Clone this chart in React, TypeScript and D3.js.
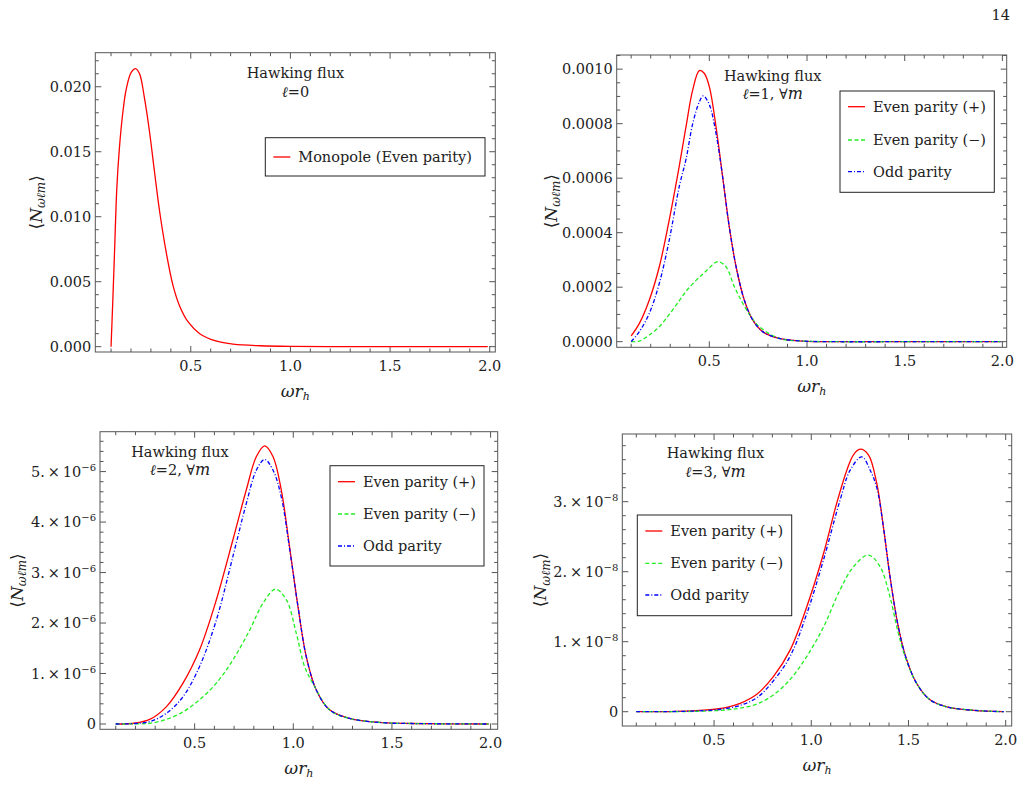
import React from 'react';
import * as d3 from 'd3';

// ---- data ----
const xMajorTicks = [0.5, 1.0, 1.5, 2.0];
const xMinorTicks = d3.range(1, 21).map((i) => i / 10);

// l = 0, monopole
const monoX = [0.1, 0.108, 0.117, 0.129, 0.142, 0.159, 0.176, 0.201, 0.223, 0.243, 0.268, 0.293, 0.318, 0.344, 0.377, 0.411, 0.445, 0.487, 0.545, 0.63, 0.713, 0.848, 1.0, 1.3, 1.6, 1.99];
const monoY = [0, 0.0032, 0.00705, 0.0122, 0.0153, 0.018, 0.0198, 0.0211, 0.0214, 0.021, 0.0191, 0.01654, 0.01346, 0.01038, 0.00725, 0.0047, 0.0031, 0.0019, 0.001, 0.00042, 0.00019, 0.00007, 0.00002, 0, 0, 0];

// l = 1
const l1PlusX = [0.1, 0.142, 0.193, 0.244, 0.295, 0.346, 0.381, 0.415, 0.449, 0.474, 0.5, 0.534, 0.568, 0.602, 0.637, 0.679, 0.722, 0.773, 0.858, 0.978, 1.15, 1.5, 1.99];
const l1PlusY = [0.000021, 0.000067, 0.000153, 0.000275, 0.000447, 0.000643, 0.00079, 0.000924, 0.000995, 0.000985, 0.000936, 0.00079, 0.000606, 0.000422, 0.000275, 0.000153, 0.00008, 0.000037, 0.000012, 0.0000024, 0, 0, 0];
const l1MinusX = [0.1, 0.142, 0.193, 0.244, 0.295, 0.346, 0.381, 0.432, 0.474, 0.509, 0.543, 0.585, 0.628, 0.671, 0.713, 0.756, 0.858, 0.978, 1.15, 1.5, 1.99];
const l1MinusY = [0, 0.0000024, 0.0000245, 0.000055, 0.0001, 0.00015, 0.000185, 0.000225, 0.000253, 0.000277, 0.000294, 0.000275, 0.000202, 0.000141, 0.000092, 0.000055, 0.000012, 0.0000024, 0, 0, 0];
const l1OddX = [0.1, 0.142, 0.193, 0.244, 0.295, 0.346, 0.381, 0.415, 0.449, 0.469, 0.5, 0.534, 0.568, 0.602, 0.637, 0.679, 0.722, 0.773, 0.858, 0.978, 1.15, 1.5, 1.99];
const l1OddY = [0, 0.000037, 0.000104, 0.000214, 0.000373, 0.000569, 0.00067, 0.0008, 0.00088, 0.000902, 0.00087, 0.000765, 0.000606, 0.000422, 0.000275, 0.000153, 0.00008, 0.000037, 0.000012, 0.0000024, 0, 0, 0];

// l = 2 (units of 1e-6)
const l2PlusX = [0.1, 0.2, 0.272, 0.356, 0.441, 0.525, 0.61, 0.694, 0.762, 0.813, 0.855, 0.897, 0.939, 0.981, 1.024, 1.066, 1.117, 1.184, 1.285, 1.454, 1.6, 1.99];
const l2PlusY = [0, 0.02, 0.09, 0.34, 0.81, 1.47, 2.46, 3.65, 4.64, 5.3, 5.51, 5.3, 4.64, 3.51, 2.32, 1.33, 0.67, 0.28, 0.11, 0.026, 0.01, 0];
const l2MinusX = [0.1, 0.2, 0.272, 0.356, 0.441, 0.525, 0.61, 0.694, 0.779, 0.846, 0.91, 0.965, 1.015, 1.057, 1.1, 1.184, 1.285, 1.454, 1.6, 1.99];
const l2MinusY = [0, 0.003, 0.013, 0.09, 0.24, 0.48, 0.81, 1.27, 1.86, 2.39, 2.67, 2.46, 1.8, 1.14, 0.8, 0.28, 0.11, 0.026, 0.01, 0];
const l2OddX = [0.1, 0.2, 0.272, 0.356, 0.441, 0.525, 0.61, 0.694, 0.762, 0.813, 0.855, 0.897, 0.939, 0.981, 1.024, 1.066, 1.117, 1.184, 1.285, 1.454, 1.6, 1.99];
const l2OddY = [0, 0.01, 0.046, 0.21, 0.54, 1.14, 2.06, 3.32, 4.37, 5.03, 5.24, 5.03, 4.5, 3.48, 2.32, 1.33, 0.67, 0.28, 0.11, 0.026, 0.01, 0];

// l = 3 (units of 1e-8)
const l3PlusX = [0.1, 0.3, 0.48, 0.56, 0.634, 0.72, 0.805, 0.891, 0.977, 1.063, 1.131, 1.183, 1.217, 1.251, 1.294, 1.337, 1.371, 1.405, 1.448, 1.491, 1.543, 1.611, 1.697, 1.834, 1.99];
const l3PlusY = [0, 0.005, 0.03, 0.06, 0.12, 0.25, 0.5, 0.88, 1.5, 2.26, 2.98, 3.45, 3.67, 3.75, 3.67, 3.26, 2.64, 1.93, 1.21, 0.74, 0.4, 0.17, 0.07, 0.02, 0];
const l3MinusX = [0.1, 0.4, 0.56, 0.634, 0.72, 0.805, 0.891, 0.977, 1.063, 1.148, 1.217, 1.294, 1.354, 1.405, 1.448, 1.491, 1.543, 1.611, 1.697, 1.834, 1.99];
const l3MinusY = [0, 0.005, 0.025, 0.05, 0.11, 0.24, 0.46, 0.79, 1.21, 1.74, 2.07, 2.238, 2.07, 1.64, 1.12, 0.72, 0.4, 0.17, 0.07, 0.02, 0];
const l3OddX = [0.1, 0.3, 0.48, 0.56, 0.634, 0.72, 0.805, 0.891, 0.977, 1.063, 1.148, 1.2, 1.26, 1.303, 1.337, 1.371, 1.405, 1.448, 1.491, 1.543, 1.611, 1.697, 1.834, 1.99];
const l3OddY = [0, 0.003, 0.02, 0.045, 0.09, 0.2, 0.44, 0.79, 1.4, 2.17, 3.02, 3.45, 3.64, 3.45, 3.2, 2.64, 1.93, 1.21, 0.74, 0.4, 0.17, 0.07, 0.02, 0];

const yTicksL0 = [0, 0.005, 0.01, 0.015, 0.02];
const yTicksL1 = [0, 0.0002, 0.0004, 0.0006, 0.0008, 0.001];
const yTicksL2 = [0, 1, 2, 3, 4, 5];
const yTicksL3 = [0, 1, 2, 3];

const FONT = '"DejaVu Serif", serif';
const RED = '#ff0000';
const GREEN = '#22ee22';
const BLUE = '#0000ff';
const GREEN_DASH = '4,2.5';
const BLUE_DASH = '4,2,1,2';

type Series = { xs: number[]; ys: number[]; color: string; dash?: string; label: React.ReactNode };

const sci = (exp: number) => (v: number) => {
  if (v === 0) return '0';
  return (
    <>
      {`${v}.\u2009×\u200910`}
      <tspan dy={-6} fontSize={10}>{`\u2212${-exp}`}</tspan>
    </>
  );
};

const evenPlus = <>Even parity (+)</>;
const evenMinus = <>Even parity ({'\u2212'})</>;
const oddLabel = <>Odd parity</>;

const panels = [
  {
    box: [95.3, 52.7, 495.3, 352], xDomain: [0.021, 2.028], yDomain: [-0.00041, 0.02262],
    yTicks: yTicksL0, yMinor: 0.001, fmt: (v: number) => d3.format('.3f')(v),
    series: [{ xs: monoX, ys: monoY, color: RED, label: <>Monopole (Even parity)</> }] as Series[],
    ell: '0', allM: false, titleX: 295.5, titleY: 78.3,
    legend: [265.3, 137.7, 219.7, 38.3], legendRows: [19.3], yLabelOff: 53.6,
  },
  {
    box: [616.7, 55, 1006.7, 347.3], xDomain: [0.026, 2.022], yDomain: [-0.0000206, 0.001052],
    yTicks: yTicksL1, yMinor: 0.00005, fmt: (v: number) => d3.format('.4f')(v),
    series: [
      { xs: l1PlusX, ys: l1PlusY, color: RED, label: evenPlus },
      { xs: l1MinusX, ys: l1MinusY, color: GREEN, dash: GREEN_DASH, label: evenMinus },
      { xs: l1OddX, ys: l1OddY, color: BLUE, dash: BLUE_DASH, label: oddLabel },
    ] as Series[],
    ell: '1', allM: true, titleX: 772.7, titleY: 80.7,
    legend: [840, 91, 154.3, 101.3], legendRows: [15.7, 49, 80.7], yLabelOff: 60,
  },
  {
    box: [100, 431.7, 497.7, 729.3], xDomain: [0.0203, 2.036], yDomain: [-0.105, 5.79],
    yTicks: yTicksL2, yMinor: 0.2, fmt: sci(-6),
    series: [
      { xs: l2PlusX, ys: l2PlusY, color: RED, label: evenPlus },
      { xs: l2MinusX, ys: l2MinusY, color: GREEN, dash: GREEN_DASH, label: evenMinus },
      { xs: l2OddX, ys: l2OddY, color: BLUE, dash: BLUE_DASH, label: oddLabel },
    ] as Series[],
    ell: '2', allM: true, titleX: 180, titleY: 456.7,
    legend: [330, 465.7, 154, 100.3], legendRows: [16, 48.3, 80.3], yLabelOff: 77.3,
  },
  {
    box: [622.3, 434, 1011.7, 726], xDomain: [0.028, 2.031], yDomain: [-0.204, 3.967],
    yTicks: yTicksL3, yMinor: 0.2, fmt: sci(-8),
    series: [
      { xs: l3PlusX, ys: l3PlusY, color: RED, label: evenPlus },
      { xs: l3MinusX, ys: l3MinusY, color: GREEN, dash: GREEN_DASH, label: evenMinus },
      { xs: l3OddX, ys: l3OddY, color: BLUE, dash: BLUE_DASH, label: oddLabel },
    ] as Series[],
    ell: '3', allM: true, titleX: 715.5, titleY: 458.3,
    legend: [637.3, 515, 154.4, 100.7], legendRows: [16, 48.3, 80], yLabelOff: 76.3,
  },
];

const FRAME = '#555';

function Panel({ p }: { p: (typeof panels)[number] }) {
  const [l, t, r, b] = p.box;
  const x = d3.scaleLinear().domain(p.xDomain).range([l, r]);
  const y = d3.scaleLinear().domain(p.yDomain).range([b, t]);
  const yMinorTicks = d3.range(0, p.yDomain[1], p.yMinor);
  const line = d3
    .line<[number, number]>()
    .x((d) => x(d[0]))
    .y((d) => y(d[1]))
    .curve(d3.curveCatmullRom.alpha(0.5));

  const majL = 6, minL = 3.5;
  const ticks: React.ReactNode[] = [];
  xMinorTicks.forEach((v, i) => {
    const len = xMajorTicks.some((m) => Math.abs(m - v) < 1e-9) ? majL : minL;
    ticks.push(<line key={`xb${i}`} x1={x(v)} x2={x(v)} y1={b} y2={b - len} />);
    ticks.push(<line key={`xt${i}`} x1={x(v)} x2={x(v)} y1={t} y2={t + len} />);
  });
  yMinorTicks.forEach((v, i) => {
    const len = p.yTicks.some((m) => Math.abs(m - v) < p.yMinor / 10) ? majL : minL;
    ticks.push(<line key={`yl${i}`} x1={l} x2={l + len} y1={y(v)} y2={y(v)} />);
    ticks.push(<line key={`yr${i}`} x1={r} x2={r - len} y1={y(v)} y2={y(v)} />);
  });

  const [lx, ly, lw, lh] = p.legend;
  const cy = (t + b) / 2;
  const yLabX = l - p.yLabelOff;

  return (
    <g>
      <g stroke={FRAME} strokeWidth={1}>{ticks}</g>
      <rect x={l} y={t} width={r - l} height={b - t} fill="none" stroke={FRAME} strokeWidth={1} />

      {p.series.map((s, i) => (
        <path
          key={i}
          d={line(s.xs.map((xv, j) => [xv, s.ys[j]] as [number, number])) || ''}
          fill="none"
          stroke={s.color}
          strokeWidth={1.3}
          strokeDasharray={s.dash}
        />
      ))}

      <g fontFamily={FONT} fontSize={14.5} fill="#222">
        {xMajorTicks.map((v) => (
          <text key={v} x={x(v)} y={b + 19} textAnchor="middle">{v.toFixed(1)}</text>
        ))}
        {p.yTicks.map((v) => (
          <text key={v} x={l - 4} y={y(v) + 5} textAnchor="end">{p.fmt(v)}</text>
        ))}
        <text x={(l + r) / 2} y={b + 45} textAnchor="middle" fontStyle="italic" fontSize={17}>
          {'\u03c9r'}
          <tspan fontSize={11} dy={3}>h</tspan>
        </text>
        <text transform={`translate(${yLabX},${cy}) rotate(-90)`} textAnchor="middle" fontSize={17}>
          {'\u27e8'}
          <tspan fontStyle="italic">N</tspan>
          <tspan fontSize={12} dy={3.5} fontStyle="italic">{'\u03c9\u2113m'}</tspan>
          <tspan dy={-3.5}>{'\u27e9'}</tspan>
        </text>
        <text x={p.titleX} y={p.titleY} textAnchor="middle">Hawking flux</text>
        <text x={p.titleX} y={p.titleY + 18.5} textAnchor="middle">
          <tspan fontStyle="italic">{'\u2113'}</tspan>
          {`=${p.ell}`}
          {p.allM ? (
            <>
              {', \u2200'}
              <tspan fontStyle="italic" fontSize={16}>m</tspan>
            </>
          ) : null}
        </text>
      </g>

      <rect x={lx} y={ly} width={lw} height={lh} fill="#fff" stroke="#222" strokeWidth={1} />
      {p.series.map((s, i) => (
        <g key={i}>
          <line x1={lx + 8} x2={lx + 25} y1={ly + p.legendRows[i]} y2={ly + p.legendRows[i]} stroke={s.color} strokeWidth={1.3} strokeDasharray={s.dash} />
          <text x={lx + 33} y={ly + p.legendRows[i] + 5} fontFamily={FONT} fontSize={14.5} fill="#222">{s.label}</text>
        </g>
      ))}
    </g>
  );
}

export default function App() {
  return (
    <svg width={1024} height={785} style={{ position: 'absolute', left: 0, top: 0, background: '#fff' }}>
      <text x={1010} y={20} textAnchor="end" fontFamily={FONT} fontSize={14.5} fill="#222">14</text>
      {panels.map((p, i) => (
        <Panel key={i} p={p} />
      ))}
    </svg>
  );
}
